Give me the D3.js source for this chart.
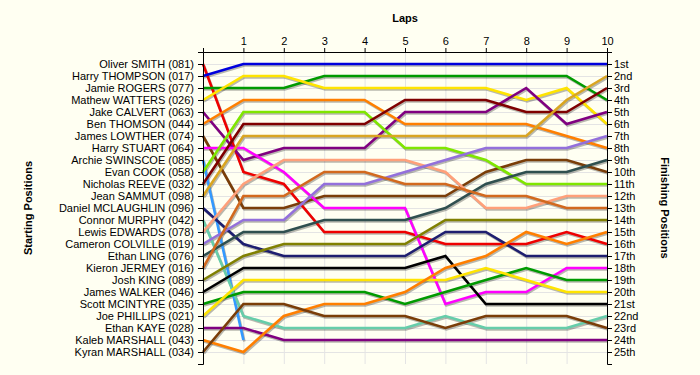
<!DOCTYPE html>
<html>
<head>
<meta charset="utf-8">
<script src="https://cdn.jsdelivr.net/npm/d3@7"></script>
<style>
  body { margin: 0; background: #fffff2; }
  svg { display: block; font-family: "Liberation Sans", Arial, sans-serif; }
  .grid line { stroke: #e4e4e4; stroke-width: 1; }
  .grid path { display: none; }
  .axis text { font-size: 11px; fill: #000; }
  .axis path, .axis line { stroke: #000; }
  .title { font-size: 11px; font-weight: bold; }
</style>
</head>
<body>
<div id="lap-chart"></div>
<script>
// starting grid order
const drivers = [
  "Oliver SMITH (081)", "Harry THOMPSON (017)", "Jamie ROGERS (077)", "Mathew WATTERS (026)",
  "Jake CALVERT (063)", "Ben THOMSON (044)", "James LOWTHER (074)", "Harry STUART (064)",
  "Archie SWINSCOE (085)", "Evan COOK (058)", "Nicholas REEVE (032)", "Jean SAMMUT (098)",
  "Daniel MCLAUGHLIN (096)", "Connor MURPHY (042)", "Lewis EDWARDS (078)", "Cameron COLVILLE (019)",
  "Ethan LING (076)", "Kieron JERMEY (016)", "Josh KING (089)", "James WALKER (046)",
  "Scott MCINTYRE (035)", "Joe PHILLIPS (021)", "Ethan KAYE (028)", "Kaleb MARSHALL (043)",
  "Kyran MARSHALL (034)"
];

const laps = [1, 2, 3, 4, 5, 6, 7, 8, 9, 10];

const finishLabels = ["1st", "2nd", "3rd", "4th", "5th", "6th", "7th", "8th", "9th", "10th",
  "11th", "12th", "13th", "14th", "15th", "16th", "17th", "18th", "19th", "20th",
  "21st", "22nd", "23rd", "24th", "25th"];

// position at end of each lap, one row per driver (same order as drivers)
const positions = [
  [10, 11, 15, 15, 15, 16, 16, 16, 15, 16],
  [1, 1, 1, 1, 1, 1, 1, 1, 1, 1],
  [3, 3, 2, 2, 2, 2, 2, 2, 2, 4],
  [2, 2, 3, 3, 3, 3, 3, 4, 3, 6],
  [9, 8, 8, 8, 5, 5, 5, 3, 6, 5],
  [4, 4, 4, 4, 6, 6, 6, 6, 7, 8],
  [13, 13, 12, 12, 12, 12, 10, 9, 9, 10],
  [8, 10, 13, 13, 13, 21, 20, 20, 18, 18],
  [24],
  [5, 5, 5, 5, 8, 8, 9, 11, 11, 11],
  [6, 6, 6, 6, 4, 4, 4, 5, 5, 3],
  [7, 7, 7, 7, 7, 7, 7, 7, 4, 2],
  [16, 17, 17, 17, 17, 15, 15, 17, 17, 17],
  [22, 23, 23, 23, 23, 22, 23, 23, 23, 22],
  [11, 9, 9, 9, 9, 10, 13, 13, 12, 12],
  [14, 14, 11, 11, 10, 9, 8, 8, 8, 7],
  [15, 15, 14, 14, 14, 13, 11, 10, 10, 9],
  [12, 12, 10, 10, 11, 11, 12, 12, 13, 13],
  [17, 16, 16, 16, 16, 14, 14, 14, 14, 14],
  [18, 18, 18, 18, 18, 17, 21, 21, 21, 21],
  [20, 20, 20, 20, 21, 20, 19, 18, 19, 19],
  [19, 19, 19, 19, 19, 19, 18, 19, 20, 20],
  [23, 24, 24, 24, 24, 24, 24, 24, 24, 24],
  [25, 22, 21, 21, 20, 18, 17, 15, 16, 15],
  [21, 21, 22, 22, 22, 23, 22, 22, 22, 23]
];

const palette = [
  "#ee0000", "#0000dd", "#009a00", "#ffe400", "#800080", "#ff7f00", "#7a3d08", "#ff00ff",
  "#3399ff", "#7fe600", "#7f0000", "#d9a521", "#1e1e70", "#66cdaa", "#ffa07a", "#9370db",
  "#2f4f4f", "#d2691e", "#808000", "#000000", "#009a00", "#ffe400", "#800080", "#ff7f00",
  "#7a3d08"
];

const width = 700, height = 375;
const margin = {top: 52, right: 93, bottom: 11, left: 203};

const svg = d3.select("#lap-chart").append("svg")
  .attr("width", width)
  .attr("height", height);

const xScale = d3.scaleLinear()
  .domain([0, laps.length])
  .range([margin.left, width - margin.right]);
const yScale = d3.scaleLinear()
  .domain([0, drivers.length + 1])
  .range([margin.top, height - margin.bottom]);

const posTicks = d3.range(1, drivers.length + 1);

// gridlines
svg.append("g").attr("class", "grid")
  .attr("transform", `translate(0,${margin.top})`)
  .call(d3.axisTop(xScale).tickValues(laps).tickSize(-(yScale.range()[1] - margin.top)).tickFormat(""));
svg.append("g").attr("class", "grid")
  .attr("transform", `translate(${margin.left},0)`)
  .call(d3.axisLeft(yScale).tickValues(posTicks).tickSize(-(xScale.range()[1] - margin.left)).tickFormat(""));

// lines
let line = d3.line()
  .x(d => xScale(d.lap))
  .y(d => yScale(d.pos));

let series = drivers.map((name, i) => {
  let pts = [{lap: 0, pos: i + 1}];
  positions[i].forEach((p, j) => pts.push({lap: j + 1, pos: p}));
  return {name: name, color: palette[i], pts: pts};
});

// drop shadow under every line
svg.append("g").selectAll("path").data(series).enter().append("path")
  .attr("d", d => line(d.pts))
  .attr("transform", "translate(1,1.5)")
  .attr("fill", "none")
  .attr("stroke", "rgba(0,0,0,0.28)")
  .attr("stroke-width", 2.6);

svg.append("g").selectAll("path").data(series).enter().append("path")
  .attr("d", d => line(d.pts))
  .attr("fill", "none")
  .attr("stroke", d => d.color)
  .attr("stroke-width", 2.6);

// axes
svg.append("g").attr("class", "axis")
  .attr("transform", `translate(0,${margin.top})`)
  .call(d3.axisTop(xScale).tickValues(laps).tickSize(4).tickSizeOuter(4));

svg.append("g").attr("class", "axis")
  .attr("transform", `translate(${margin.left},0)`)
  .call(d3.axisLeft(yScale).tickValues(posTicks).tickSize(5).tickPadding(4)
    .tickFormat(d => drivers[d - 1]));

svg.append("g").attr("class", "axis")
  .attr("transform", `translate(${xScale.range()[1]},0)`)
  .call(d3.axisRight(yScale).tickValues(posTicks).tickSize(5).tickPadding(2)
    .tickFormat(d => finishLabels[d - 1]));

// titles
svg.append("text").attr("class", "title")
  .attr("x", (xScale.range()[0] + xScale.range()[1]) / 2)
  .attr("y", 22)
  .attr("text-anchor", "middle")
  .text("Laps");

let midY = (yScale.range()[0] + yScale.range()[1]) / 2;
svg.append("text").attr("class", "title")
  .attr("transform", `translate(32,${midY}) rotate(-90)`)
  .attr("text-anchor", "middle")
  .text("Starting Positions");
svg.append("text").attr("class", "title")
  .attr("transform", `translate(661,${midY}) rotate(90)`)
  .attr("text-anchor", "middle")
  .text("Finishing Positions");
</script>
</body>
</html>
